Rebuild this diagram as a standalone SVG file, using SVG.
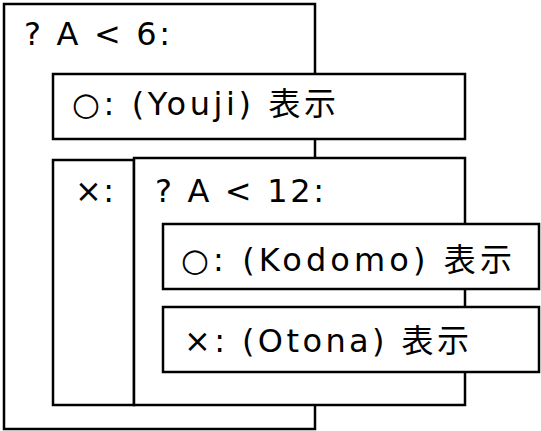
<svg xmlns="http://www.w3.org/2000/svg" width="541" height="431" viewBox="0 0 541 431">
<style>
.box{fill:#fff;stroke:#000;stroke-width:2.5}
.t{font-family:"DejaVu Sans","Noto Sans CJK JP",sans-serif;font-size:32px;fill:#000}
</style>
<rect width="541" height="431" fill="#fff"/>
<g id="connectors"></g>
<g id="if6">
<rect class="box" x="4" y="4" width="311" height="425"/>
<text class="t" x="24" y="45" textLength="146" lengthAdjust="spacing">? A &lt; 6:</text>
</g>
<g id="youji">
<rect class="box" x="53" y="74" width="412" height="65"/>
<text class="t" x="72" y="115" textLength="264" lengthAdjust="spacing">○: (Youji) 表示</text>
</g>
<g id="else6">
<rect class="box" x="53" y="160" width="81" height="245"/>
<text class="t" x="75" y="202" textLength="39" lengthAdjust="spacing">×:</text>
</g>
<g id="if12">
<rect class="box" x="134" y="158" width="331" height="247"/>
<text class="t" x="155" y="202" textLength="169" lengthAdjust="spacing">? A &lt; 12:</text>
</g>
<g id="kodomo">
<rect class="box" x="163" y="224" width="376" height="65"/>
<text class="t" x="181" y="271" textLength="331" lengthAdjust="spacing">○: (Kodomo) 表示</text>
</g>
<g id="otona">
<rect class="box" x="163" y="307" width="376" height="65"/>
<text class="t" x="184" y="352" textLength="285" lengthAdjust="spacing">×: (Otona) 表示</text>
</g>
</svg>
